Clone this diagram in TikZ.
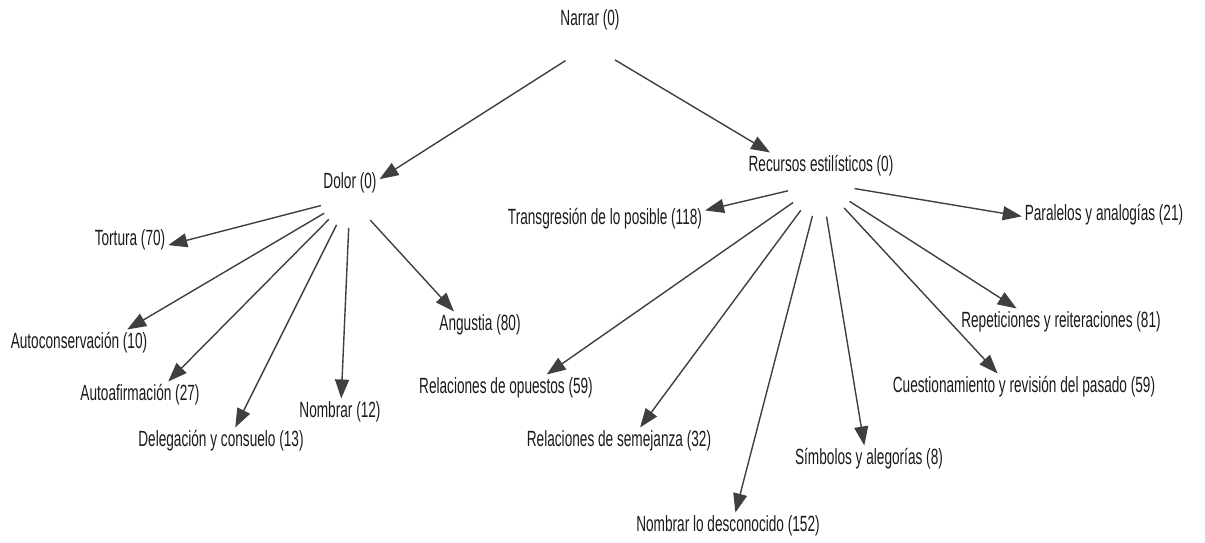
\documentclass[tikz,border=0pt]{standalone}
\usepackage{fontspec}
\setmainfont{Liberation Sans}[FakeStretch=0.62]
\usetikzlibrary{arrows.meta}
\definecolor{linkgray}{HTML}{3F3F3F}
\definecolor{labelgray}{HTML}{1A1A1A}
\begin{document}
\begin{tikzpicture}[x=1pt, y=-1pt,
    concept/.style={inner sep=3pt, outer sep=0pt, text=labelgray,
      font=\fontsize{22pt}{26pt}\selectfont,
      text height=16pt, text depth=#1},
    concept/.default=35pt,
    link/.style={draw=linkgray, line width=1.4pt,
      -{Triangle[length=19pt, width=14pt]}}]
    \useasboundingbox (0,0) rectangle (1205,543);

    \node[concept=55pt] (m) at (590,45) {Narrar (0)};
    \node[concept] (ml) at (350,198) {Dolor (0)};
    \node[concept=39pt] (mr) at (821,183) {Recursos estilísticos (0)};

    \node[concept] (ml1) at (130,255) {Tortura (70)};
    \node[concept] (ml2) at (79,358) {Autoconservación (10)};
    \node[concept] (ml3) at (140,410) {Autoafirmación (27)};
    \node[concept] (ml4) at (221,456) {Delegación y consuelo (13)};
    \node[concept] (ml5) at (340,427) {Nombrar (12)};
    \node[concept] (ml6) at (480,340) {Angustia (80)};

    \node[concept] (mr1) at (605,234) {Transgresión de lo posible (118)};
    \node[concept] (mr2) at (1104,230) {Paralelos y analogías (21)};
    \node[concept] (mr3) at (1061,337) {Repeticiones y reiteraciones (81)};
    \node[concept] (mr4) at (1024,402) {Cuestionamiento y revisión del pasado (59)};
    \node[concept] (mr5) at (869,474) {Símbolos y alegorías (8)};
    \node[concept] (mr6) at (728,541) {Nombrar lo desconocido (152)};
    \node[concept] (mr7) at (619,456) {Relaciones de semejanza (32)};
    \node[concept] (mr8) at (506,403) {Relaciones de opuestos (59)};

    \draw[link, shorten <=29pt] (m.center) -- (ml);
    \draw[link, shorten <=29pt] (m.center) -- (mr);

    \draw[link, shorten <=30pt] (ml.center) -- (ml1);
    \draw[link, shorten <=30pt] (ml.center) -- (ml2);
    \draw[link, shorten <=30pt] (ml.center) -- (ml3);
    \draw[link, shorten <=30pt] (ml.center) -- (ml4);
    \draw[link, shorten <=30pt] (ml.center) -- (ml5);
    \draw[link, shorten <=30pt] (ml.center) -- (ml6);

    \draw[link, shorten <=34pt] (mr.center) -- (mr1);
    \draw[link, shorten <=34pt] (mr.center) -- (mr2);
    \draw[link, shorten <=34pt] (mr.center) -- (mr3);
    \draw[link, shorten <=34pt] (mr.center) -- (mr4);
    \draw[link, shorten <=34pt] (mr.center) -- (mr5);
    \draw[link, shorten <=34pt] (mr.center) -- (mr6);
    \draw[link, shorten <=34pt] (mr.center) -- (mr7);
    \draw[link, shorten <=34pt] (mr.center) -- (mr8);
\end{tikzpicture}
\end{document}
